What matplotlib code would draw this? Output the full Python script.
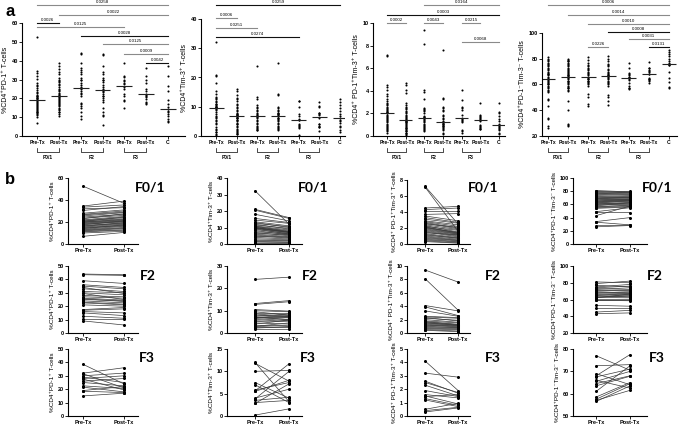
import numpy as np
import matplotlib.pyplot as plt

plt.rcParams['font.family'] = ['Liberation Sans', 'DejaVu Sans']
plt.rcParams['font.weight'] = 'bold'

groups = ['Pre-Tx', 'Post-Tx', 'Pre-Tx', 'Post-Tx', 'Pre-Tx', 'Post-Tx', 'C']
stages = ['F0/1', 'F2', 'F3']

# %CD4+PD-1+ T-cells
pd1_f01_pre = [52.5, 34.5, 33.5, 32, 30.5, 28, 27, 26.5, 25.5, 24.5, 23.5, 23, 22, 21.5, 21, 20.5, 20, 20, 19.5,
               19, 18.5, 18, 17.5, 17, 16.5, 16, 15.5, 15, 14.5, 14, 13.5, 13, 12.5, 12, 11.5, 11, 10, 7]
pd1_f01_post = [37, 39, 35.5, 33, 34, 31, 30, 29, 28.5, 27, 26, 27.5, 25, 24, 23, 24.5, 22, 22.5, 21.5,
                21, 20.5, 20, 21, 19, 18.5, 19.5, 18, 17, 16.5, 17.5, 16, 15, 14.5, 14, 13, 12.5, 11.5, 10.5]
pd1_f2_pre = [44, 43.5, 39, 36, 35, 34, 33, 31, 30, 29.5, 28, 27, 26, 25.5, 25, 24, 23, 22.5, 21, 17.5, 17, 16,
              15, 12.5, 10.5, 9]
pd1_f2_post = [43.5, 43, 37, 34, 33, 29.5, 31, 30, 28.5, 25, 27, 26, 24.5, 23.5, 24, 22.5, 21.5, 21, 20, 19, 18,
               15, 13, 11, 10.5, 6]
pd1_f3_pre = [38.5, 32, 31.5, 30, 29, 28, 27.5, 26, 25, 22.5, 21.5, 19, 18.5, 15]
pd1_f3_post = [24, 36, 21, 32, 25, 30, 19.5, 28, 22.5, 20.5, 18, 22, 17.5, 17]
pd1_c = [37, 32, 26.5, 24, 19, 17, 15.5, 14.5, 13.5, 12.5, 11.5, 10.5, 9, 8, 7.5]

# %CD4+Tim-3+ T-cells
tim3_f01_pre = [32.3, 21, 20.5, 18, 15.5, 14.5, 13.5, 13, 12.5, 12, 11.5, 11, 10.8, 10.5, 10.2, 10, 9.9, 9.8,
                9.7, 9.5, 9.2, 8.8, 8.2, 7.5, 7, 6.5, 6, 5.5, 5, 4.5, 4, 3.2, 2.5, 2, 1.5, 1.2, 0.8, 0.5]
tim3_f01_post = [12, 16, 15.5, 14, 13, 12.5, 11, 10, 10.5, 9, 9.5, 8.5, 7.5, 8, 7.2, 7, 7.1, 7.5, 6.5, 7, 6,
                 6.2, 5.5, 6, 5, 5.5, 4.5, 4, 3.5, 4.2, 3, 2.5, 2, 1.8, 1.2, 1, 0.8, 0.6]
tim3_f2_pre = [24, 13.2, 12.8, 10.5, 10, 9.5, 9, 8.5, 8, 7.5, 7.2, 7, 7, 6.8, 6.5, 6, 5.5, 5, 4.5, 4, 3.5, 3,
               2.8, 2.5, 2.2, 2]
tim3_f2_post = [25, 14.5, 14, 9.8, 9.5, 8, 9, 7.5, 7.3, 8.5, 6, 7.8, 6.8, 7.4, 5.5, 7, 5, 6.2, 4, 5.8, 3, 4.5,
                3.5, 2.5, 2.8, 2]
tim3_f3_pre = [12, 11.8, 10, 7.5, 7, 5.8, 5.6, 5.5, 4, 3.8, 3.5, 3, 2.8, 0.2]
tim3_f3_post = [3.2, 7.8, 10.2, 4, 3, 7.5, 11.7, 8, 6, 10, 4.2, 3.5, 7.2, 1.6]
tim3_c = [12.5, 11.5, 10.5, 9.5, 8.5, 7.5, 7, 6.3, 5.5, 5, 4.5, 3.5, 3, 2.2, 1.5]

# %CD4+PD-1+Tim-3+ T-cells
dp_f01_pre = [7.2, 7.1, 4.5, 4.3, 4.1, 3.7, 3.5, 3.3, 3.1, 2.9, 2.8, 2.7, 2.6, 2.5, 2.4, 2.3, 2.2, 2.15, 2.1,
              2.05, 2.0, 1.9, 1.8, 1.7, 1.6, 1.5, 1.4, 1.3, 1.2, 1.1, 1.0, 0.9, 0.8, 0.7, 0.6, 0.5, 0.4, 0.3]
dp_f01_post = [2.5, 1.6, 4.7, 4.5, 4.1, 3.8, 2.9, 2.7, 2.6, 2.4, 2.2, 2.0, 1.9, 2.1, 1.8, 1.5, 1.7, 1.4, 1.35,
               1.45, 1.3, 1.25, 1.2, 1.1, 1.0, 0.9, 1.15, 0.8, 0.7, 0.75, 0.6, 0.5, 0.45, 0.4, 0.3, 0.25, 0.15, 0.1]
dp_f2_pre = [9.4, 8.1, 4.1, 3.9, 3.3, 2.5, 2.4, 2.3, 2.2, 2.0, 1.8, 1.7, 1.65, 1.55, 1.5, 1.4, 1.3, 1.2, 1.1,
             1.0, 0.9, 0.8, 0.7, 0.6, 0.5, 0.4]
dp_f2_post = [7.6, 3.4, 3.3, 2.6, 2.5, 2.3, 2.2, 1.8, 1.9, 1.6, 1.5, 1.3, 1.25, 1.15, 1.2, 1.1, 1.0, 0.9, 1.05,
              0.8, 0.85, 0.7, 0.6, 0.5, 0.3, 0.2]
dp_f3_pre = [4.1, 3.2, 2.6, 2.5, 2.3, 1.9, 1.6, 1.5, 1.45, 1.3, 1.2, 0.5, 0.4, 0.3]
dp_f3_post = [1.9, 2.9, 1.7, 1.75, 1.5, 1.45, 1.35, 0.9, 1.6, 0.8, 0.7, 0.95, 0.65, 0.6]
dp_c = [2.9, 2.1, 2.0, 1.8, 1.5, 1.3, 1.1, 1.0, 0.9, 0.8, 0.7, 0.6, 0.5, 0.3, 0.2]

# %CD4+PD-1-Tim-3- T-cells
dn_f01_pre = [81, 80, 79, 78, 77, 76, 75, 74, 73, 72, 71, 70, 69, 68.5, 68, 67, 66, 65, 64.5, 63.5, 63, 62, 61,
              60.5, 60, 59, 58, 57, 56, 55, 54, 49, 48, 43, 34, 33, 28, 26]
dn_f01_post = [79, 80, 78, 77, 76, 78.5, 74, 75, 72, 73, 70, 71, 69, 70.5, 67, 68, 66, 67.5, 65, 66.5, 64, 65.5,
               62, 63, 61, 60, 62.5, 58, 59, 57, 56, 55, 47.5, 57.5, 40, 29, 28.5, 28]
dn_f2_pre = [81, 79, 77, 75, 74, 73, 72, 71, 70, 69, 68, 67, 66, 65, 64.5, 64, 63, 62.5, 62, 61, 60, 59, 53, 50,
             45, 43]
dn_f2_post = [80, 82, 75, 78, 76, 72, 74, 70, 71, 68, 69, 66, 67.5, 67, 63, 65, 64, 62, 66.5, 61, 60, 58.5, 52,
              50, 47, 44]
dn_f3_pre = [77, 72.5, 69, 68, 67.5, 66, 65.5, 64.5, 63.5, 61, 58.5, 57.5, 57, 56.5]
dn_f3_post = [70.5, 73, 64, 77.5, 71, 62.5, 70, 68, 67.8, 72.5, 65, 64.5, 61.5, 63.5]
dn_c = [87, 85, 84, 82, 80, 78, 77, 76, 75.5, 75, 70, 65, 62, 58, 57]

ylabels = ['%CD4⁺PD-1⁺ T-cells', '%CD4⁺Tim-3⁺ T-cells',
           '%CD4⁺ PD-1⁺Tim-3⁺ T-cells', '%CD4⁺PD-1⁻Tim-3⁻ T-cells']

# comparisons: (group a, group b, p-value)
pd1_pvals = [(0, 6, '0.0258'), (1, 6, '0.0022'), (0, 1, '0.0026'), (0, 4, '0.0125'),
             (2, 6, '0.0028'), (3, 6, '0.0125'), (4, 6, '0.0009'), (5, 6, '0.0042')]
tim3_pvals = [(0, 6, '0.0259'), (0, 1, '0.0006'), (0, 2, '0.0251'), (0, 4, '0.0274')]
dp_pvals = [(2, 6, '0.0164'), (0, 6, '0.0003'), (0, 1, '0.0002'), (2, 3, '0.0043'),
            (4, 5, '0.0215'), (4, 6, '0.0068')]
dn_pvals = [(0, 6, '0.0006'), (1, 6, '0.0014'), (2, 6, '0.0010'), (3, 6, '0.0008'),
            (4, 6, '0.0031'), (5, 6, '0.0131'), (2, 3, '0.0226')]

W, H = 685, 426
fig = plt.figure(figsize=(W / 100, H / 100), dpi=100)


def px_axes(x0, y0, x1, y1):
    return fig.add_axes([x0 / W, 1 - y1 / H, (x1 - x0) / W, (y1 - y0) / H])


def style(ax, fs):
    for s in ['top', 'right']:
        ax.spines[s].set_visible(False)
    for s in ['left', 'bottom']:
        ax.spines[s].set_linewidth(0.8)
    ax.tick_params(length=2, width=0.6, labelsize=fs, pad=1)


def top_panel(rect, data, ylim, yticks, xlim, ylabel, pvals, levels, colors):
    x0, y0, x1, y1 = rect
    hpx = y1 - y0
    ax = px_axes(*rect)
    for k, vals in enumerate(data):
        ax.plot([k] * len(vals), vals, 'o', ms=1.5, color='black', mec='none', clip_on=False)
        ax.hlines(np.median(vals), k - 0.36, k + 0.36, color='#222222', lw=0.8)
    ax.set_xlim(xlim)
    ax.set_ylim(ylim)
    ax.set_yticks(yticks)
    ax.set_xticks(range(7))
    ax.set_xticklabels(groups)
    style(ax, 4.0)
    ax.tick_params(axis='x', labelsize=3.6)
    ax.set_ylabel(ylabel, fontsize=5, labelpad=2)
    tr = ax.get_xaxis_transform()
    # stage brackets under the tick labels
    for s, name in enumerate(stages):
        a, b = 2 * s, 2 * s + 1
        ax.plot([a, a, b, b], [-12 / hpx, -16 / hpx, -16 / hpx, -12 / hpx], color='black', lw=0.5,
                transform=tr, clip_on=False)
        ax.text((a + b) / 2, -19 / hpx, name, transform=tr, ha='center', va='top', fontsize=3.6)
    # significance bars
    for (a, b, p), lev, c in zip(pvals, levels, colors):
        yf = (y1 - lev) / hpx
        ax.plot([a, b], [yf, yf], color=c, lw=0.8, transform=tr, clip_on=False)
        ax.text((a + b) / 2, yf + 1 / hpx, p, transform=tr, ha='center', va='bottom', fontsize=3.2,
                fontweight='normal')
    return ax


G, K = '#8a8a8a', '#111111'
top_panel((22, 23, 185, 136), [pd1_f01_pre, pd1_f01_post, pd1_f2_pre, pd1_f2_post, pd1_f3_pre, pd1_f3_post, pd1_c],
          (0, 60), range(0, 61, 10), (-0.69, 6.78), ylabels[0], pd1_pvals,
          [5, 15, 23, 27, 36, 44, 54, 63], [G, G, K, G, K, G, G, K])
top_panel((201, 19, 345, 136), [tim3_f01_pre, tim3_f01_post, tim3_f2_pre, tim3_f2_post, tim3_f3_pre, tim3_f3_post,
                                tim3_c],
          (0, 40), range(0, 41, 10), (-0.73, 6.24), ylabels[1], tim3_pvals,
          [5, 18, 28, 37], [K, G, G, K])
top_panel((373, 23, 505, 136), [dp_f01_pre, dp_f01_post, dp_f2_pre, dp_f2_post, dp_f3_pre, dp_f3_post, dp_c],
          (0, 10), range(0, 11, 2), (-0.75, 6.32), ylabels[2], dp_pvals,
          [5, 15, 23, 23, 23, 42], [G, K, G, G, G, G])
top_panel((542, 33, 677, 136), [dn_f01_pre, dn_f01_post, dn_f2_pre, dn_f2_post, dn_f3_pre, dn_f3_post, dn_c],
          (20, 100), range(20, 101, 20), (-0.3, 6.4), ylabels[3], dn_pvals,
          [5, 15, 24, 32, 39, 47, 47], [G, G, G, K, G, K, G])


def pair_panel(rect, pre, post, ylim, yticks, xlim, ylabel, stage, lab_xy):
    ax = px_axes(*rect)
    n = len(pre)
    ax.plot([[0] * n, [1] * n], [pre, post], '-', color='#3a3a3a', lw=0.5)
    ax.plot([0] * n, pre, 'o', ms=2.2, color='black', mec='none', clip_on=False)
    ax.plot([1] * n, post, 'o', ms=2.2, color='black', mec='none', clip_on=False)
    ax.set_xlim(xlim)
    ax.set_ylim(ylim)
    ax.set_yticks(yticks)
    ax.set_xticks([0, 1])
    ax.set_xticklabels(['Pre-Tx', 'Post-Tx'])
    style(ax, 4.0)
    ax.set_ylabel(ylabel, fontsize=4.6, labelpad=2)
    fig.text(lab_xy[0] / W, 1 - lab_xy[1] / H, stage, ha='center', va='center', fontsize=10,
             fontweight='bold', family=['Lato', 'DejaVu Sans'])
    return ax


rows = [(178, 244), (266, 333), (349, 416)]
cols = [(68, 138, (-0.375, 1.35)), (227, 302, (-0.82, 1.38)), (407, 470, (-0.55, 1.36)), (573, 647, (-0.68, 1.5))]
lab_x = [[150, 148, 147], [313, 310, 308], [483, 493, 493], [657, 655, 657]]
lab_y = [188, 276, 358]

pairs = [
    [(pd1_f01_pre, pd1_f01_post), (pd1_f2_pre, pd1_f2_post), (pd1_f3_pre, pd1_f3_post)],
    [(tim3_f01_pre, tim3_f01_post), (tim3_f2_pre, tim3_f2_post), (tim3_f3_pre, tim3_f3_post)],
    [(dp_f01_pre, dp_f01_post), (dp_f2_pre, dp_f2_post), (dp_f3_pre, dp_f3_post)],
    [(dn_f01_pre, dn_f01_post), (dn_f2_pre, dn_f2_post), (dn_f3_pre, dn_f3_post)],
]
pair_ylims = [
    [((0, 60), range(0, 61, 20)), ((0, 50), range(0, 51, 10)), ((0, 50), range(0, 51, 10))],
    [((0, 40), range(0, 41, 10)), ((0, 30), range(0, 31, 10)), ((0, 15), range(0, 16, 5))],
    [((0, 8), range(0, 9, 2)), ((0, 10), range(0, 11, 2)), ((0, 5), range(0, 6, 1))],
    [((0, 100), range(0, 101, 20)), ((20, 100), range(20, 101, 20)), ((50, 80), range(50, 81, 10))],
]

for c, (cx0, cx1, xl) in enumerate(cols):
    for r, (ry0, ry1) in enumerate(rows):
        top = ry0 + 2 if (c == 2 and r == 0) else ry0
        pre, post = pairs[c][r]
        yl, yt = pair_ylims[c][r]
        pair_panel((cx0, top, cx1, ry1), pre, post, yl, yt, xl, ylabels[c], stages[r],
                   (lab_x[c][r], lab_y[r]))

fig.text(5 / W, 1 - 12 / H, 'a', fontsize=12, fontweight='bold', va='center')
fig.text(5 / W, 1 - 180 / H, 'b', fontsize=12, fontweight='bold', va='center')

fig.savefig('out.png', dpi=100)
